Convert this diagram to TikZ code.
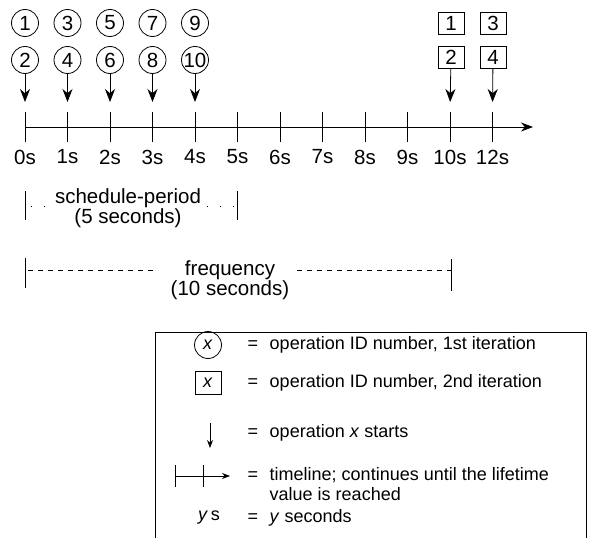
\documentclass[tikz,border=0pt]{standalone}
\usepackage{fontspec}
\setmainfont{Liberation Sans}
\usetikzlibrary{arrows.meta,positioning}

\begin{document}
\begin{tikzpicture}[x=1pt, y=-1pt, line width=0.8pt,
  big/.style={font=\fontsize{20.5}{15}\selectfont},
  small/.style={font=\fontsize{18}{20}\selectfont},
  opcirc/.style={draw, circle, minimum size=27pt, inner sep=0pt},
  opbox/.style={draw, rectangle, minimum width=26pt, minimum height=22pt, inner sep=0pt},
  startarrow/.style={-{Stealth[length=13pt,width=10pt]}, shorten >=10pt},
  dotline/.style={dash pattern=on 1pt off 12pt},
  freqdash/.style={dash pattern=on 5pt off 5pt},
  ]
\useasboundingbox (0,0) rectangle (590,538);

% timeline with ticks
\coordinate (tstart) at (25,127);
\coordinate (tend) at (533,127);
\draw[-{Stealth[length=12pt,width=9pt]}] (tstart) -- (tend);
\foreach \lab [count=\i from 0] in {0,...,10,12} {
  \coordinate (t\lab) at (25+42.5*\i,112);
  \draw (t\lab) -- ++(0,30);
  \node[big] (l\lab) at (25+42.5*\i,157) {\lab s};
}

% first iteration
\foreach \n [count=\i from 0] in {1,3,5,7,9}
  \node[opcirc, big] (c\n) at (25+42.5*\i,23) {\n};
\foreach \n/\t [count=\i from 0] in {2/0,4/1,6/2,8/3,10/4} {
  \node[opcirc, big] (c\n) at (25+42.5*\i,60) {\n};
  \draw[startarrow] (c\n) -- (t\t);
}

% second iteration
\node[opbox, big] (b1) at (451,23) {1};
\node[opbox, big] (b2) at (451,57) {2};
\node[opbox, big] (b3) at (493,23) {3};
\node[opbox, big] (b4) at (493,57) {4};
\draw[startarrow] (b2) -- (t10);
\draw[startarrow] (b4) -- (t12);

% schedule-period
\coordinate (sptop) at (25,191);
\coordinate (sprtop) at (237,191);
\draw (sptop) -- ++(0,29);
\draw (sprtop) -- ++(0,29);
\node[big, align=center] (sp) at (128,208) {schedule-period\\(5 seconds)};
\draw[dotline] (31,206) -- (46,206);
\draw[dotline] (207,206) -- (236,206);

% frequency
\coordinate (fqtop) at (25,258);
\coordinate (fqrtop) at (451,259);
\draw (fqtop) -- ++(0,30);
\draw (fqrtop) -- ++(0,32);
\node[big, align=center] (fq) at (230,280) {frequency\\(10 seconds)};
\draw[freqdash] (28,270) -- (158,270);
\draw[freqdash] (297,270) -- (451,270);

% legend
\draw (155,538) -- (155,332) -- (586,332) -- (586,538);
\node[opcirc, small] (lcirc) at (208,345) {\textit{x}};
\node[opbox, small, minimum height=23pt] (lbox) at (208,383) {\textit{x}};
\coordinate (larrtop) at (210,423);
\coordinate (larrbot) at (210,448);
\draw[-{Stealth[length=8pt,width=6pt]}] (larrtop) -- (larrbot);
\coordinate (ltl) at (175,476);
\coordinate (ltr) at (230,476);
\draw[-{Stealth[length=8pt,width=6pt]}] (ltl) -- (ltr);
\draw (175,465) -- (175,487);
\draw (203,465) -- (203,487);
\node[small] (lys) at (209,518) {\textit{y}\,s};

\foreach \y/\name in {345/e1,383/e2,433/e3,476/e4,518/e5}
  \node[small] (\name) at (253,\y) {=};
\node[small, anchor=west] (d1) at (266,345) {operation ID number, 1st iteration};
\node[small, anchor=west] (d2) at (266,383) {operation ID number, 2nd iteration};
\node[small, anchor=west] (d3) at (266,433) {operation \textit{x} starts};
\node[small, anchor=north west, align=left] (d4) at (266,464) {timeline; continues until the lifetime\\value is reached};
\node[small, anchor=west] (d5) at (266,518) {\textit{y} seconds};
\end{tikzpicture}
\end{document}
